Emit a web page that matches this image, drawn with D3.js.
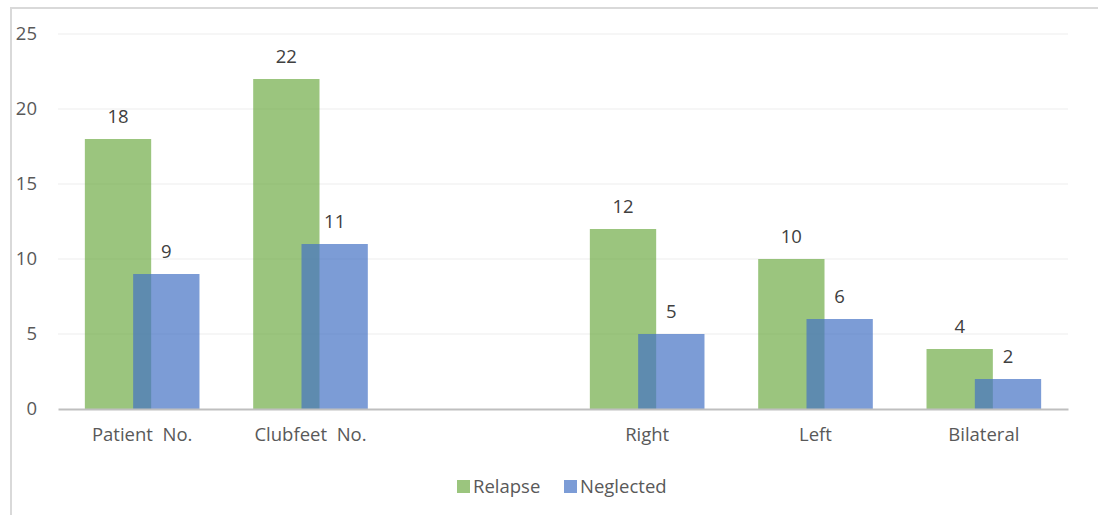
<!DOCTYPE html>
<html>
<head>
<meta charset="utf-8">
<script src="https://cdn.jsdelivr.net/npm/d3@7/dist/d3.min.js"></script>
<style>
  html, body { margin: 0; padding: 0; background: #fff; }
  svg { display: block; font-family: "Open Sans", "Noto Sans", sans-serif; }
</style>
</head>
<body>
<svg id="chart" width="1098" height="515"></svg>
<script>
const categories = ["Patient  No.", "Clubfeet  No.", " ", "Right", "Left", "Bilateral"];
const relapse   = [18, 22, null, 12, 10, 4];
const neglected = [9, 11, null, 5, 6, 2];
const yTicks = [0, 5, 10, 15, 20, 25];
const seriesNames = ["Relapse", "Neglected"];
const seriesColors = ["#70AD47", "#4472C4"];

(function () {
const svg = d3.select("#chart");
const W = 1098, H = 515;
const FS = "18.5px";

// frame
svg.append("line").attr("x1", 11).attr("x2", 11).attr("y1", 7).attr("y2", H)
  .attr("stroke", "#D9D9D9").attr("stroke-width", 2);
svg.append("line").attr("x1", 10).attr("x2", W).attr("y1", 8).attr("y2", 8)
  .attr("stroke", "#D9D9D9").attr("stroke-width", 2);

const pl = 58, pr = 1068, pt = 34, pb = 409;
const x = d3.scaleBand().domain(categories).range([pl, pr]).padding(0);
const y = d3.scaleLinear().domain([0, 25]).range([pb, pt]);

// gridlines
svg.append("g").selectAll("line").data(yTicks.filter(d => d > 0)).join("line")
  .attr("x1", pl).attr("x2", pr)
  .attr("y1", d => y(d)).attr("y2", d => y(d))
  .attr("stroke", "#EDEDED").attr("stroke-width", 1);

// y axis labels
const yAxis = svg.append("g").attr("transform", `translate(${pl},0)`)
  .call(d3.axisLeft(y).tickValues(yTicks).tickSize(0).tickPadding(21));
yAxis.select(".domain").remove();
yAxis.selectAll("text").attr("fill", "#595959").style("font-size", FS)
  .style("font-family", '"Open Sans", sans-serif');

const bw = x.bandwidth();
const barW = bw * 0.394;
const offs = bw * 0.287;
const groupW = barW + offs;

const series = [relapse, neglected];
series.forEach((vals, si) => {
  const data = categories.map((c, i) => ({ c, v: vals[i] })).filter(d => d.v != null);
  const xOf = d => x(d.c) + bw / 2 - groupW / 2 + si * offs;
  svg.append("g").selectAll("rect").data(data).join("rect")
    .attr("x", xOf)
    .attr("y", d => y(d.v))
    .attr("width", barW)
    .attr("height", d => y(0) - y(d.v))
    .attr("fill", seriesColors[si])
    .attr("fill-opacity", 0.7);
  svg.append("g").selectAll("text").data(data).join("text")
    .attr("x", d => xOf(d) + barW / 2)
    .attr("y", d => y(d.v) - 16)
    .attr("text-anchor", "middle")
    .attr("fill", "#404040")
    .style("font-size", FS)
    .text(d => d.v);
});

// x axis
const xAxis = svg.append("g").attr("transform", `translate(0,${pb})`)
  .call(d3.axisBottom(x).tickSize(0).tickPadding(19));
xAxis.select(".domain").attr("stroke", "#BFBFBF").attr("stroke-width", 2);
xAxis.selectAll("text").attr("fill", "#595959").style("font-size", FS)
  .style("font-family", '"Open Sans", sans-serif').style("white-space", "pre");

// legend
const legend = svg.append("g");
const legX = [457, 564];
seriesNames.forEach((n, i) => {
  legend.append("rect").attr("x", legX[i]).attr("y", 480).attr("width", 13).attr("height", 13)
    .attr("fill", seriesColors[i]).attr("fill-opacity", 0.7);
  legend.append("text").attr("x", legX[i] + 16).attr("y", 493)
    .attr("fill", "#595959").style("font-size", FS).text(n);
});
})();
</script>
</body>
</html>
